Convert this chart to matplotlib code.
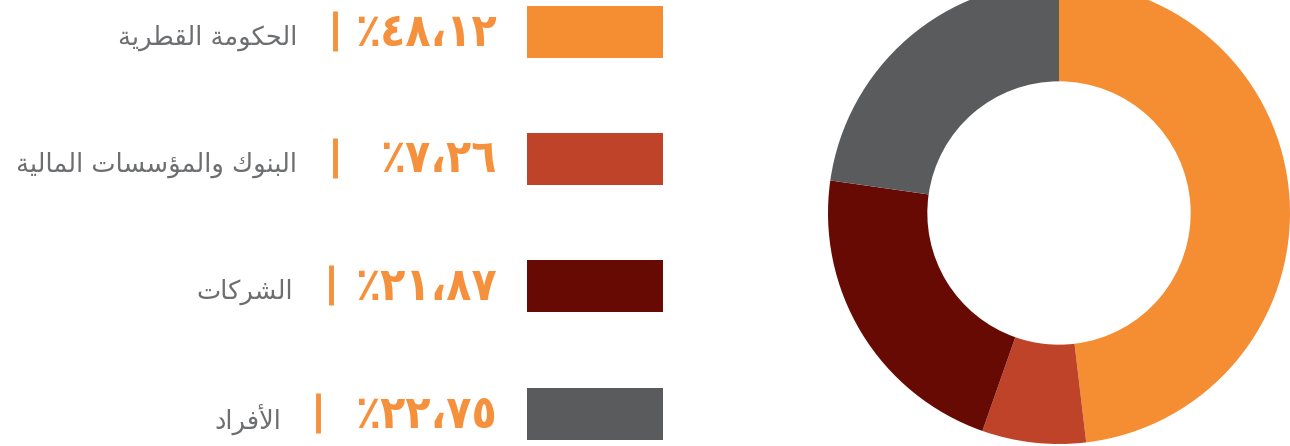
import matplotlib
matplotlib.use('Agg')
import matplotlib.pyplot as plt

# data
labels = ['الحكومة القطرية', 'البنوك والمؤسسات المالية', 'الشركات', 'الأفراد']
values = [48.12, 7.26, 21.87, 22.75]
pct_labels = ['٪٤٨،١٢', '٪٧،٢٦', '٪٢١،٨٧', '٪٢٢،٧٥']
colors = ['#F58D32', '#BF4329', '#680A04', '#5A5B5D']

# arabic shaping by hand (matplotlib does no complex shaping)
forms = {
    'ا': ('\uFE8D', '\uFE8E', None, None),
    'أ': ('\uFE83', '\uFE84', None, None),
    'ؤ': ('\uFE85', '\uFE86', None, None),
    'ب': ('\uFE8F', '\uFE90', '\uFE91', '\uFE92'),
    'ة': ('\uFE93', '\uFE94', None, None),
    'ت': ('\uFE95', '\uFE96', '\uFE97', '\uFE98'),
    'ح': ('\uFEA1', '\uFEA2', '\uFEA3', '\uFEA4'),
    'د': ('\uFEA9', '\uFEAA', None, None),
    'ر': ('\uFEAD', '\uFEAE', None, None),
    'س': ('\uFEB1', '\uFEB2', '\uFEB3', '\uFEB4'),
    'ش': ('\uFEB5', '\uFEB6', '\uFEB7', '\uFEB8'),
    'ط': ('\uFEC1', '\uFEC2', '\uFEC3', '\uFEC4'),
    'ف': ('\uFED1', '\uFED2', '\uFED3', '\uFED4'),
    'ق': ('\uFED5', '\uFED6', '\uFED7', '\uFED8'),
    'ك': ('\uFED9', '\uFEDA', '\uFEDB', '\uFEDC'),
    'ل': ('\uFEDD', '\uFEDE', '\uFEDF', '\uFEE0'),
    'م': ('\uFEE1', '\uFEE2', '\uFEE3', '\uFEE4'),
    'ن': ('\uFEE5', '\uFEE6', '\uFEE7', '\uFEE8'),
    'و': ('\uFEED', '\uFEEE', None, None),
    'ي': ('\uFEF1', '\uFEF2', '\uFEF3', '\uFEF4'),
    'لأ': ('\uFEF7', '\uFEF8', None, None),
    'لا': ('\uFEFB', '\uFEFC', None, None),
}


def shape(s):
    chars = []
    i = 0
    while i < len(s):
        if s[i] == 'ل' and i + 1 < len(s) and s[i + 1] in 'اأ':
            chars.append(s[i:i + 2])
            i += 2
        else:
            chars.append(s[i])
            i += 1
    out = []
    for k, c in enumerate(chars):
        if c not in forms:
            out.append(c)
            continue
        f = forms[c]
        prev = chars[k - 1] if k > 0 else None
        nxt = chars[k + 1] if k + 1 < len(chars) else None
        join_prev = prev in forms and forms[prev][2] is not None
        join_next = f[2] is not None and nxt in forms
        if join_prev and join_next:
            out.append(f[3])
        elif join_prev:
            out.append(f[1])
        elif join_next:
            out.append(f[2])
        else:
            out.append(f[0])
    return ''.join(out)[::-1]


W, H = 1290, 446
fig = plt.figure(figsize=(W / 100, H / 100), dpi=100)

# donut
ax = fig.add_axes([828 / W, 2 / H, 462 / W, 462 / H])
ax.pie(values, colors=colors, startangle=90, counterclock=False,
       wedgeprops=dict(width=0.43, linewidth=0))
ax.set_xlim(-1, 1)
ax.set_ylim(-1, 1)
ax.set_aspect('equal')
ax.axis('off')

# legend
lax = fig.add_axes([0, 0, 1, 1])
lax.set_xlim(0, W)
lax.set_ylim(H, 0)
lax.axis('off')

row_y = [32, 159, 286, 414]
sep_x = [335, 335, 331, 318]
label_x = [297, 297, 293, 281]
for i in range(len(labels)):
    y = row_y[i]
    lax.add_patch(plt.Rectangle((527, y - 26), 136, 52, color=colors[i], lw=0))
    lax.text(497, y + 1, pct_labels[i], ha='right', va='center', fontsize=33,
             fontweight='bold', fontstretch='condensed', color='#F5913C',
             family='DejaVu Sans')
    lax.plot([sep_x[i], sep_x[i]], [y - 21, y + 19], color='#F5913C', lw=3.5,
             solid_capstyle='butt')
    lax.text(label_x[i], y + 6, shape(labels[i]), ha='right', va='center',
             fontsize=18.5, color='#6D6E70', family='DejaVu Sans')

fig.savefig('out.png', dpi=100)
